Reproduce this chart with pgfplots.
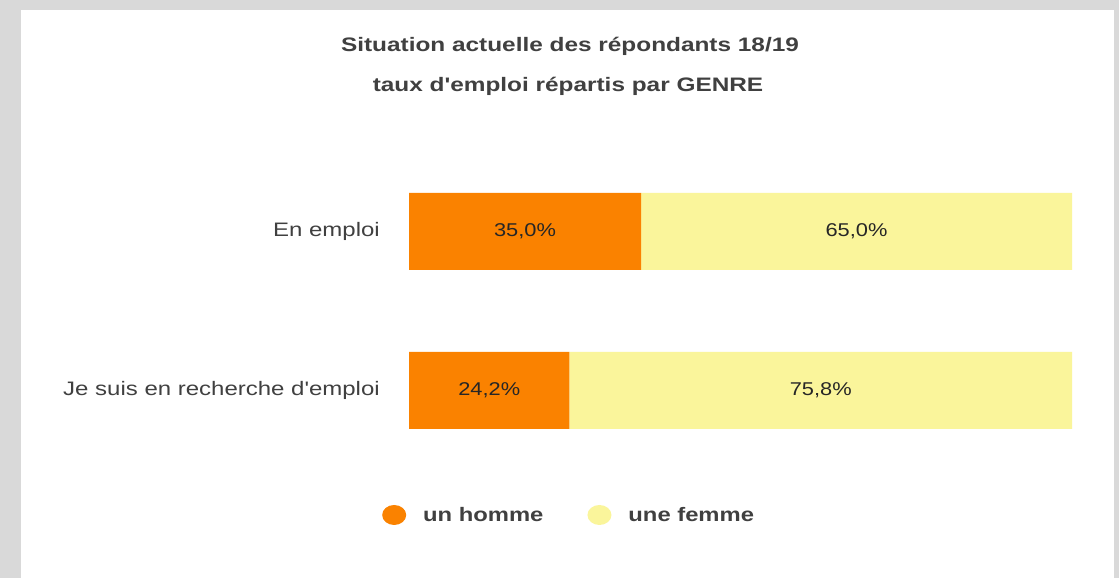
\documentclass[border=0pt]{standalone}
\usepackage{graphicx}
\usepackage{pgfplots}
\pgfplotsset{compat=1.18}
\usepackage{fontspec}
\setmainfont{Liberation Sans}
\definecolor{bg}{HTML}{D9D9D9}
\definecolor{homme}{HTML}{FA8200}
\definecolor{femme}{HTML}{FAF59B}
\definecolor{txt}{HTML}{404040}
\definecolor{dark}{HTML}{262626}
\newcommand{\sx}[2]{\scalebox{#1}[1]{#2}}
\begin{document}
\begin{tikzpicture}[x=1bp,y=1bp]
\fill[bg] (0bp,0bp) rectangle (1119bp,578bp);
\fill[white] (21bp,0bp) rectangle (1114bp,568bp);
\node[font=\fontsize{19.5bp}{23bp}\selectfont\bfseries, text=txt] at (570bp,532bp) {\sx{1.25}{Situation actuelle des répondants 18/19}};
\node[font=\fontsize{19.5bp}{23bp}\selectfont\bfseries, text=txt] at (568bp,492bp) {\sx{1.25}{taux d\textquotesingle emploi répartis par GENRE}};
\begin{axis}[
  at={(409bp,108bp)}, anchor=south west,
  width=663bp, height=318bp, scale only axis,
  xbar stacked,
  xmin=0, xmax=100, ymin=-0.5, ymax=1.5,
  bar width=77bp,
  axis line style={draw=none},
  xtick=\empty, ytick={0,1},
  yticklabels={{\sx{1.23}{Je suis en recherche d\textquotesingle emploi}}, {\sx{1.23}{En emploi}}},
  major tick length=0pt,
  yticklabel style={font=\fontsize{19.5bp}{23bp}\selectfont, text=txt, inner sep=0pt, anchor=east, xshift=-29bp},
  clip=false,
  /pgf/number format/assume math mode=true,
  nodes near coords={\sx{1.18}{\pgfmathprintnumber[fixed,fixed zerofill,precision=1,use comma,assume math mode=true]{\pgfplotspointmeta}\%}},
  every node near coord/.append style={font=\fontsize{18.5bp}{22bp}\selectfont, text=dark},
  legend columns=2,
  legend style={at={(0.2415,-0.1415)}, anchor=center, draw=none, fill=none,
    font=\fontsize{19.5bp}{23bp}\selectfont\bfseries, text=txt,
    /tikz/every even column/.append style={column sep=42bp},
    /tikz/every odd column/.append style={column sep=15bp}},
  legend image code/.code={\fill[#1] (6bp,0bp) ellipse (12bp and 10bp);},
]
\addplot[fill=homme, draw=none] coordinates {(24.2,0) (35.0,1)};
\addplot[fill=femme, draw=none] coordinates {(75.8,0) (65.0,1)};
\legend{\sx{1.22}{un homme}, \sx{1.22}{une femme}}
\end{axis}
\end{tikzpicture}
\end{document}
